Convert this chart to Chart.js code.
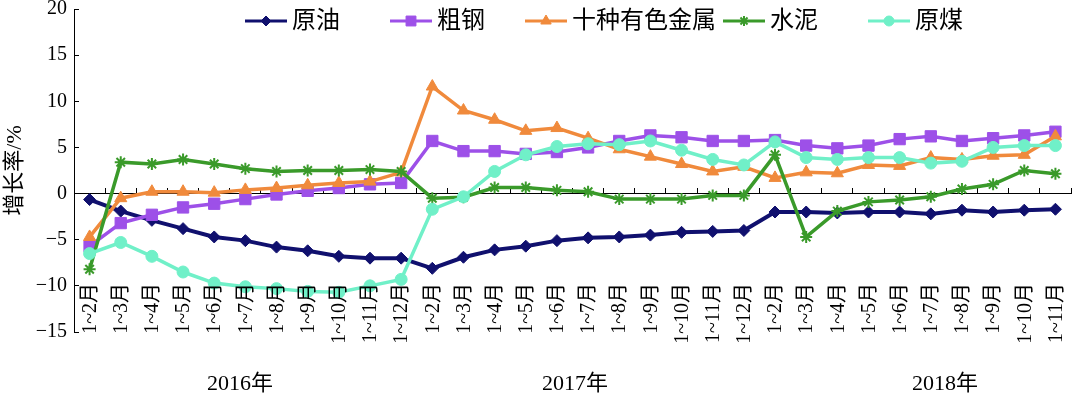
<!DOCTYPE html>
<html>
<head>
<meta charset="utf-8">
<script src="https://cdn.jsdelivr.net/npm/chart.js@4/dist/chart.umd.min.js"></script>
<style>
  html, body { margin: 0; padding: 0; background: #fff; }
  #wrap { width: 1080px; height: 398px; }
</style>
</head>
<body>
<div id="wrap"><canvas id="myChart" width="1080" height="398"></canvas></div>
<script>
const categories = [
  '1~2月','1~3月','1~4月','1~5月','1~6月','1~7月','1~8月','1~9月','1~10月','1~11月','1~12月',
  '1~2月','1~3月','1~4月','1~5月','1~6月','1~7月','1~8月','1~9月','1~10月','1~11月','1~12月',
  '1~2月','1~3月','1~4月','1~5月','1~6月','1~7月','1~8月','1~9月','1~10月','1~11月'
];
const years = ['2016年', '2017年', '2018年'];
const yTicks = [-15, -10, -5, 0, 5, 10, 15, 20];

const crudeOil = [-0.65,-1.9,-2.9,-3.8,-4.7,-5.1,-5.8,-6.2,-6.8,-7.0,-7.0,
  -8.1,-6.9,-6.1,-5.7,-5.1,-4.8,-4.7,-4.5,-4.2,-4.1,-4.0,
  -2.0,-2.0,-2.1,-2.0,-2.0,-2.2,-1.8,-2.0,-1.8,-1.7];
const crudeSteel = [-5.7,-3.2,-2.3,-1.5,-1.1,-0.6,-0.1,0.3,0.6,1.0,1.15,
  5.7,4.6,4.6,4.3,4.5,5.0,5.7,6.3,6.1,5.7,5.7,
  5.8,5.2,4.9,5.2,5.9,6.2,5.7,6.0,6.3,6.7];
const nonferrous = [-4.7,-0.5,0.2,0.2,0.1,0.4,0.6,0.9,1.15,1.3,2.3,
  11.6,9.0,8.0,6.8,7.1,6.0,4.8,4.0,3.2,2.4,2.9,
  1.7,2.3,2.2,3.1,3.0,3.9,3.7,4.1,4.2,6.2];
const cement = [-8.2,3.4,3.2,3.7,3.2,2.7,2.4,2.5,2.5,2.6,2.4,
  -0.5,-0.4,0.65,0.65,0.35,0.2,-0.6,-0.6,-0.6,-0.2,-0.2,
  4.2,-4.7,-1.9,-0.9,-0.7,-0.35,0.5,1.0,2.5,2.15];
const rawCoal = [-6.5,-5.3,-6.8,-8.5,-9.7,-10.1,-10.3,-10.6,-10.7,-10.0,-9.3,
  -1.7,-0.35,2.4,4.2,5.1,5.4,5.3,5.7,4.7,3.7,3.1,
  5.6,3.9,3.7,3.9,3.9,3.3,3.5,5.0,5.2,5.2];

const serif = '"Liberation Serif", "Noto Sans CJK SC", serif';

function series(label, data, color, style, radius, width, order) {
  return {
    label, data,
    borderColor: color,
    backgroundColor: color,
    pointBorderColor: color,
    pointBackgroundColor: color,
    borderWidth: width,
    pointStyle: style,
    pointRadius: radius,
    pointBorderWidth: style === 'star' ? 2 : 1,
    tension: 0,
    order
  };
}

const datasets = [
  series('原油', crudeOil, '#10106e', 'rectRot', 6, 4, 4),
  series('粗钢', crudeSteel, '#9d50e8', 'rect', 8, 3.5, 3),
  series('十种有色金属', nonferrous, '#f08a3c', 'triangle', 7, 3.5, 2),
  series('水泥', cement, '#3a9a2a', 'star', 6, 3.5, 1),
  series('原煤', rawCoal, '#70f0c8', 'circle', 6, 3.5, 0)
];

// legend spots: [line start x, text start x]
const legendSpots = [[245, 292], [390, 437], [525, 572], [723, 770], [868, 915]];
const yearX = [240, 575, 945];

const decor = {
  id: 'decor',
  afterDraw(chart) {
    const ctx = chart.ctx;
    const xs = chart.scales.x;
    ctx.save();
    ctx.fillStyle = '#000';

    // rotated category labels
    ctx.font = '20px ' + serif;
    ctx.textAlign = 'right';
    ctx.textBaseline = 'middle';
    categories.forEach((lab, i) => {
      ctx.save();
      ctx.translate(xs.getPixelForValue(i) + 1, 283);
      ctx.rotate(-Math.PI / 2);
      ctx.fillText(lab, 0, 0);
      ctx.restore();
    });

    // year labels
    ctx.font = '22px ' + serif;
    ctx.textAlign = 'center';
    years.forEach((y, k) => ctx.fillText(y, yearX[k], 384));

    // legend
    ctx.font = '24px ' + serif;
    ctx.textAlign = 'left';
    datasets.forEach((ds, k) => {
      const [lx, tx] = legendSpots[k];
      const cy = 21;
      ctx.strokeStyle = ds.borderColor;
      ctx.fillStyle = ds.borderColor;
      ctx.lineWidth = 3;
      ctx.beginPath();
      ctx.moveTo(lx, cy);
      ctx.lineTo(lx + 42, cy);
      ctx.stroke();
      ctx.lineWidth = ds.pointBorderWidth;
      Chart.helpers.drawPoint(ctx, {pointStyle: ds.pointStyle, radius: ds.pointRadius - 1, rotation: 0, borderWidth: ds.pointBorderWidth}, lx + 21, cy);
      ctx.fillStyle = '#000';
      ctx.fillText(ds.label, tx, cy + 1);
    });
    ctx.restore();
  }
};

new Chart(document.getElementById('myChart').getContext('2d'), {
  type: 'line',
  data: { labels: categories, datasets },
  plugins: [decor],
  options: {
    responsive: false,
    animation: false,
    layout: { padding: { top: 7, bottom: 66, left: 0, right: 1 } },
    plugins: { legend: { display: false }, tooltip: { enabled: false } },
    scales: {
      x: {
        type: 'category',
        offset: true,
        position: { y: 0 },
        ticks: { display: false },
        grid: { display: true, offset: true, drawOnChartArea: false, drawTicks: true, tickLength: -6, color: '#000', lineWidth: 1 },
        border: { display: true, color: '#000', width: 1 }
      },
      y: {
        min: -15,
        max: 20,
        afterBuildTicks(scale) { scale.ticks = yTicks.map(v => ({ value: v })); },
        afterFit(scale) { scale.width = 74; scale.paddingTop = 0; scale.paddingBottom = 0; },
        ticks: {
          padding: 12,
          color: '#000',
          font: { family: serif, size: 20 },
          callback: v => String(v).replace('-', '−')
        },
        title: { display: true, text: '增长率/%', color: '#000', font: { family: serif, size: 22 }, padding: { top: 2, bottom: 0 } },
        grid: { display: true, drawOnChartArea: false, drawTicks: true, tickLength: -5, color: '#000' },
        border: { display: true, color: '#000', width: 1 }
      }
    }
  }
});
</script>
</body>
</html>
